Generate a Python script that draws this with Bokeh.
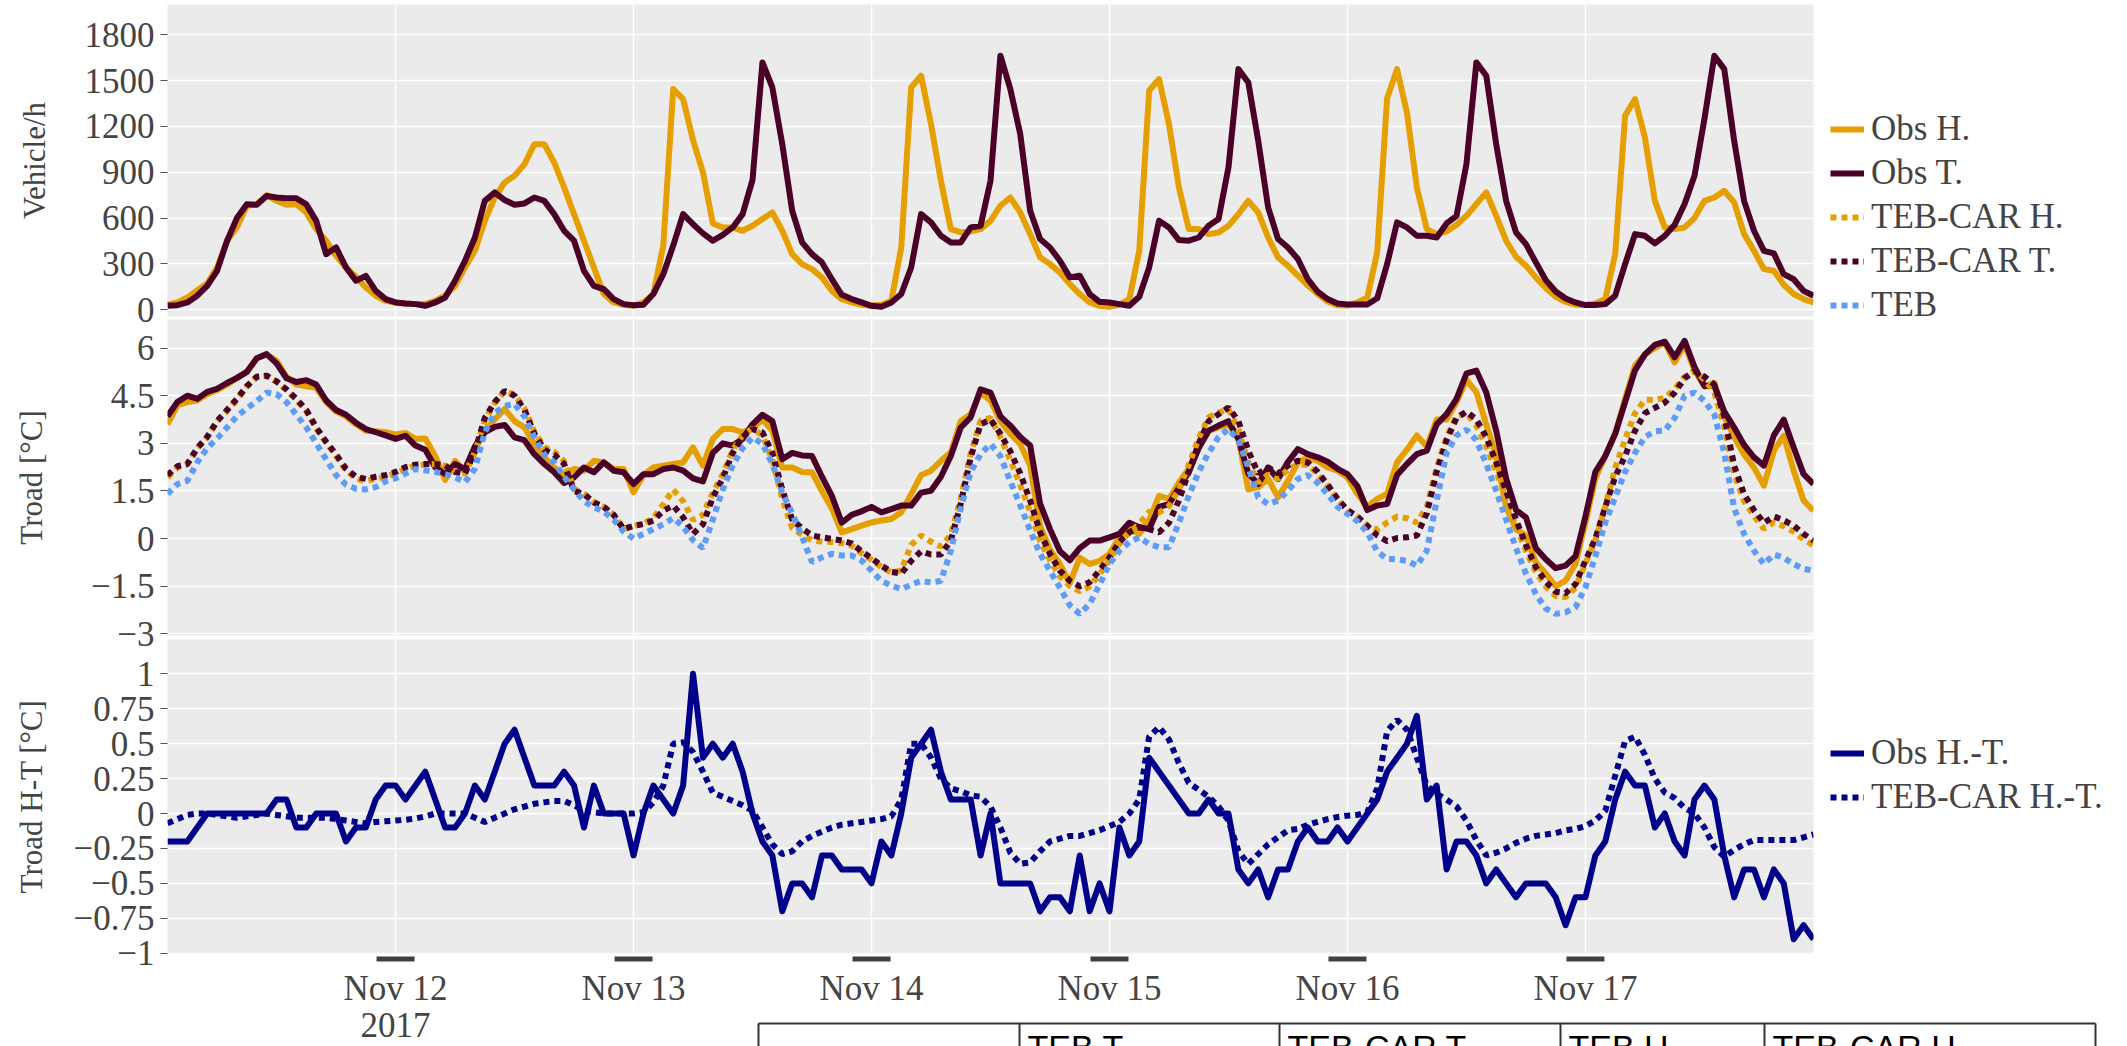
import pandas as pd
from bokeh.plotting import figure
from bokeh.layouts import column
from bokeh.models import Range1d, FixedTicker, Grid, Legend, LegendItem
from bokeh.core.properties import value
from bokeh.embed import file_html
from bokeh.resources import INLINE

# ---------------- data ----------------
START = "2017-11-11 01:00"
N_HOURS = 167
DAY_TICKS = ["2017-11-12", "2017-11-13", "2017-11-14", "2017-11-15", "2017-11-16", "2017-11-17"]
DAY_LABELS = ["Nov 12", "Nov 13", "Nov 14", "Nov 15", "Nov 16", "Nov 17"]
YEAR_LABEL = "2017"

TRAFFIC_TICKS = [0, 300, 600, 900, 1200, 1500, 1800]
TRAFFIC_TICK_LABELS = ["0", "300", "600", "900", "1200", "1500", "1800"]
TROAD_TICKS = [-3, -1.5, 0, 1.5, 3, 4.5, 6]
TROAD_TICK_LABELS = ["\u22123", "\u22121.5", "0", "1.5", "3", "4.5", "6"]
DIFF_TICKS = [-1, -0.75, -0.5, -0.25, 0, 0.25, 0.5, 0.75, 1]
DIFF_TICK_LABELS = ["\u22121", "\u22120.75", "\u22120.5", "\u22120.25", "0", "0.25", "0.5", "0.75", "1"]
TABLE_HEADERS = ["TEB T.", "TEB-CAR T.", "TEB H.", "TEB-CAR H."]

# Vehicle/h
OBS_H_TRAFFIC = [
    33, 48, 80, 128, 172, 277, 450, 540, 680, 690, 750, 713, 687, 690, 637, 528, 452, 353, 277, 216, 146, 92, 59, 48,
    41, 37, 37, 59, 92, 157, 277, 386, 582, 735, 833, 877, 953, 1084, 1084, 964, 801, 626, 452, 277, 103, 48, 33, 26,
    48, 103, 420, 1445, 1379, 1110, 900, 565, 539, 539, 517, 550, 594, 637, 517, 364, 299, 266, 212, 124, 70, 48, 33, 26,
    33, 59, 408, 1455, 1532, 1215, 844, 528, 506, 513, 528, 582, 681, 735, 637, 495, 343, 299, 244, 168, 103, 48, 26, 20,
    33, 70, 386, 1434, 1510, 1215, 801, 528, 528, 495, 506, 550, 626, 713, 637, 473, 343, 288, 223, 160, 103, 55, 30, 28,
    48, 81, 375, 1385, 1575, 1290, 801, 528, 495, 513, 556, 615, 692, 768, 615, 452, 347, 288, 212, 142, 85, 52, 33, 31,
    41, 70, 364, 1270, 1379, 1128, 713, 539, 528, 539, 600, 713, 735, 779, 703, 495, 386, 266, 255, 164, 103, 70, 48]
OBS_T_TRAFFIC = [
    26, 30, 48, 92, 157, 255, 450, 600, 690, 687, 745, 735, 730, 730, 690, 582, 364, 408, 277, 190, 222, 124, 70, 48,
    41, 37, 26, 48, 80, 190, 320, 473, 713, 768, 718, 687, 696, 735, 713, 626, 517, 452, 255, 157, 135, 70, 37, 30,
    33, 103, 233, 420, 626, 560, 500, 452, 490, 539, 626, 850, 1619, 1455, 1084, 648, 441, 364, 310, 200, 98, 70, 48, 26,
    20, 48, 103, 277, 626, 572, 484, 441, 441, 539, 550, 844, 1663, 1444, 1150, 648, 463, 408, 321, 212, 223, 103, 52, 48,
    37, 26, 85, 277, 583, 539, 456, 452, 473, 550, 594, 932, 1575, 1488, 1106, 670, 463, 408, 332, 200, 118, 70, 41, 35,
    35, 35, 75, 299, 572, 539, 484, 484, 473, 565, 615, 954, 1619, 1532, 1084, 713, 506, 430, 310, 194, 120, 74, 48, 31,
    31, 37, 92, 299, 495, 484, 434, 484, 556, 692, 877, 1248, 1663, 1575, 1106, 713, 517, 386, 369, 233, 200, 124, 92]

# Troad [°C]
OBS_H_TROAD = [
    3.6, 4.2, 4.3, 4.35, 4.55, 4.68, 4.85, 5.05, 5.25, 5.68, 5.8, 5.6, 5.1, 4.85, 4.8, 4.75, 4.3, 4.0, 3.85, 3.6, 3.4, 3.38, 3.35, 3.28,
    3.33, 3.14, 3.15, 2.6, 1.85, 2.45, 2.1, 2.8, 3.4, 3.75, 4.08, 3.7, 3.5, 2.98, 2.56, 2.24, 2.0, 2.19, 2.14, 2.45, 2.4, 2.19, 2.19, 1.46,
    2.0, 2.24, 2.3, 2.35, 2.4, 2.87, 2.3, 3.14, 3.45, 3.45, 3.35, 3.48, 3.75, 3.4, 2.24, 2.24, 2.1, 2.09, 1.5, 0.95, 0.2, 0.3, 0.41, 0.51,
    0.57, 0.62, 0.83, 1.4, 2.0, 2.14, 2.45, 2.72, 3.7, 3.92, 4.6, 4.35, 3.7, 3.3, 2.98, 2.3, 0.4, -0.35, -0.8, -1.4, -0.6, -0.8, -0.7, -0.48,
    0.04, 0.3, 0.15, 0.57, 1.35, 1.25, 1.77, 2.2, 2.9, 3.4, 3.5, 3.6, 3.14, 1.55, 1.62, 1.88, 1.3, 1.82, 2.4, 2.56, 2.45, 2.24, 2.14, 1.93,
    1.41, 1.0, 1.25, 1.41, 2.4, 2.8, 3.25, 2.9, 3.75, 3.75, 4.3, 5.0, 4.61, 3.6, 2.6, 1.0, 0.3, 0.1, -0.75, -1.1, -1.5, -1.32, -0.8, 0.5,
    1.9, 2.6, 3.3, 4.4, 5.45, 5.8, 6.0, 6.18, 5.55, 6.12, 5.3, 4.8, 4.9, 3.85, 3.2, 2.65, 2.24, 1.67, 2.77, 3.24, 2.14, 1.2, 0.88]
OBS_T_TROAD = [
    3.85, 4.3, 4.5, 4.4, 4.62, 4.72, 4.9, 5.06, 5.25, 5.68, 5.81, 5.52, 5.05, 4.93, 4.99, 4.85, 4.35, 4.05, 3.9, 3.65, 3.45, 3.35, 3.25, 3.14,
    3.24, 2.93, 2.8, 2.25, 2.03, 2.35, 2.19, 2.9, 3.35, 3.52, 3.58, 3.19, 3.1, 2.66, 2.35, 2.09, 1.75, 1.93, 2.24, 2.09, 2.4, 2.14, 2.09, 1.72,
    2.03, 2.03, 2.19, 2.24, 2.14, 1.9, 1.8, 2.7, 3.0, 2.93, 3.14, 3.6, 3.9, 3.7, 2.5, 2.7, 2.62, 2.6, 1.95, 1.35, 0.5, 0.75, 0.86, 1.0,
    0.83, 0.93, 1.04, 1.04, 1.45, 1.51, 1.95, 2.6, 3.5, 3.82, 4.7, 4.6, 3.85, 3.56, 3.2, 2.93, 1.1, 0.3, -0.4, -0.68, -0.3, -0.06, -0.06, 0.04,
    0.15, 0.5, 0.36, 0.3, 1.0, 1.09, 1.6, 2.1, 2.85, 3.4, 3.56, 3.7, 3.14, 2.05, 1.72, 2.24, 1.88, 2.42, 2.82, 2.66, 2.56, 2.42, 2.2, 2.03,
    1.65, 0.9, 1.04, 1.09, 2.0, 2.35, 2.66, 2.77, 3.6, 3.92, 4.4, 5.2, 5.29, 4.6, 3.4, 1.9, 0.9, 0.67, -0.3, -0.65, -0.93, -0.85, -0.55, 0.7,
    2.1, 2.6, 3.3, 4.3, 5.3, 5.8, 6.1, 6.2, 5.71, 6.23, 5.4, 4.8, 4.82, 4.0, 3.5, 2.95, 2.56, 2.3, 3.25, 3.75, 2.87, 2.03, 1.72]
TEB_CAR_H_TROAD = [
    1.93, 2.24, 2.34, 2.85, 3.2, 3.69, 4.03, 4.37, 4.78, 5.09, 5.13, 4.94, 4.68, 4.37, 4.02, 3.47, 3.02, 2.61, 2.15, 1.89, 1.81, 1.89, 1.95, 2.05,
    2.2, 2.3, 2.33, 2.35, 2.3, 2.1, 2.05, 2.72, 3.74, 4.27, 4.65, 4.53, 4.1, 3.37, 2.88, 2.74, 2.44, 1.56, 1.42, 1.15, 1.0, 0.75, 0.3, 0.4,
    0.47, 0.65, 1.08, 1.54, 1.18, 0.59, 0.75, 1.45, 2.02, 2.79, 3.26, 3.47, 3.25, 2.48, 1.26, 0.33, 0.12, -0.06, -0.09, -0.11, -0.14, -0.22, -0.46, -0.67,
    -0.89, -1.07, -1.0, -0.2, 0.1, -0.1, -0.25, 0.12, 1.26, 2.68, 3.72, 3.8, 3.2, 2.47, 1.69, 0.85, -0.07, -0.68, -1.19, -1.49, -1.66, -1.51, -1.12, -0.69,
    -0.16, 0.2, 0.46, 0.85, 0.82, 1.03, 1.56, 2.32, 3.17, 3.82, 3.97, 4.08, 3.43, 2.41, 1.76, 2.02, 1.88, 2.18, 2.34, 2.32, 2.04, 1.66, 1.23, 0.89,
    0.69, 0.41, 0.28, 0.51, 0.69, 0.64, 0.5, 1.0, 2.24, 3.2, 3.85, 3.95, 3.56, 2.9, 2.12, 1.25, 0.39, -0.38, -1.06, -1.5, -1.81, -1.84, -1.54, -0.78,
    -0.05, 1.02, 2.22, 3.12, 3.95, 4.37, 4.37, 4.43, 4.71, 5.09, 5.28, 5.0, 4.61, 3.54, 2.04, 1.18, 0.71, 0.31, 0.51, 0.39, 0.22, -0.02, -0.21]
TEB_CAR_T_TROAD = [
    2.0, 2.28, 2.35, 2.85, 3.2, 3.7, 4.05, 4.4, 4.8, 5.1, 5.13, 4.95, 4.7, 4.4, 4.05, 3.5, 3.05, 2.65, 2.2, 1.95, 1.88, 1.95, 2.0, 2.1,
    2.25, 2.33, 2.35, 2.35, 2.3, 2.1, 2.05, 2.75, 3.8, 4.3, 4.65, 4.5, 4.05, 3.3, 2.8, 2.65, 2.35, 1.5, 1.4, 1.14, 1.0, 0.75, 0.3, 0.4,
    0.46, 0.57, 0.88, 1.04, 0.67, 0.15, 0.45, 1.3, 1.9, 2.7, 3.2, 3.45, 3.35, 2.7, 1.55, 0.6, 0.32, 0.1, 0.04, -0.01, -0.06, -0.15, -0.4, -0.62,
    -0.85, -1.05, -1.1, -0.7, -0.4, -0.5, -0.5, -0.06, 1.1, 2.55, 3.6, 3.75, 3.3, 2.75, 2.05, 1.2, 0.2, -0.48, -1.01, -1.33, -1.5, -1.37, -1.0, -0.6,
    -0.1, 0.2, 0.36, 0.3, 0.2, 0.5, 1.2, 2.1, 3.0, 3.7, 3.92, 4.13, 3.7, 2.77, 2.05, 2.24, 2.05, 2.3, 2.45, 2.4, 2.1, 1.7, 1.25, 0.9,
    0.7, 0.4, 0.1, -0.08, 0.02, 0.04, 0.1, 0.8, 2.1, 3.1, 3.8, 4.0, 3.75, 3.2, 2.4, 1.5, 0.6, -0.2, -0.9, -1.35, -1.67, -1.72, -1.43, -0.69,
    0.0, 1.0, 1.95, 2.6, 3.4, 3.95, 4.12, 4.28, 4.6, 5.05, 5.28, 5.1, 4.85, 3.85, 2.3, 1.4, 0.9, 0.5, 0.7, 0.58, 0.41, 0.15, -0.06]
TEB_TROAD = [
    1.41, 1.72, 1.82, 2.4, 2.85, 3.15, 3.5, 3.85, 4.1, 4.33, 4.6, 4.55, 4.3, 3.9, 3.5, 3.0, 2.5, 2.0, 1.7, 1.57, 1.55, 1.62, 1.8, 1.9,
    2.05, 2.19, 2.15, 2.1, 2.03, 1.93, 1.78, 2.2, 3.35, 3.95, 4.18, 4.24, 3.85, 3.2, 2.65, 2.4, 1.95, 1.55, 1.18, 0.99, 0.85, 0.6, 0.22, 0.0,
    0.15, 0.3, 0.45, 0.65, 0.38, -0.05, -0.3, 0.6, 1.55, 2.3, 2.85, 3.19, 2.98, 2.35, 1.45, 0.8, 0.05, -0.74, -0.59, -0.48, -0.53, -0.53, -0.69, -1.01,
    -1.33, -1.48, -1.59, -1.45, -1.33, -1.38, -1.33, -0.38, 0.95, 2.1, 2.66, 2.98, 2.6, 1.8, 1.05, 0.25, -0.48, -1.01, -1.55, -2.1, -2.37, -2.06, -1.45, -0.8,
    -0.38, -0.11, 0.04, -0.17, -0.27, -0.27, 0.5, 1.35, 2.1, 2.7, 3.2, 3.45, 3.1, 2.24, 1.3, 1.09, 1.2, 1.51, 1.88, 2.0, 1.75, 1.4, 1.0, 0.78,
    0.55, 0.2, -0.4, -0.64, -0.65, -0.7, -0.85, -0.38, 1.2, 2.7, 3.25, 3.43, 3.1, 2.35, 1.5, 0.6, -0.3, -1.1, -1.75, -2.2, -2.37, -2.32, -2.16, -1.53,
    -0.55, 0.5, 1.3, 2.1, 2.7, 3.2, 3.38, 3.4, 3.8, 4.5, 4.6, 4.34, 3.9, 2.7, 0.95, 0.15, -0.38, -0.8, -0.5, -0.6, -0.8, -0.95, -1.01]

# Troad H-T [°C]
OBS_HT = [
    -0.2, -0.2, -0.2, -0.1, 0.0, 0.0, 0.0, 0.0, 0.0, 0.0, 0.0, 0.1, 0.1, -0.1, -0.1, 0.0, 0.0, 0.0, -0.2, -0.1, -0.1, 0.1, 0.2, 0.2,
    0.1, 0.2, 0.3, 0.1, -0.1, -0.1, 0.0, 0.2, 0.1, 0.3, 0.5, 0.6, 0.4, 0.2, 0.2, 0.2, 0.3, 0.2, -0.1, 0.2, 0.0, 0.0, 0.0, -0.3,
    0.0, 0.2, 0.1, 0.0, 0.2, 1.0, 0.4, 0.5, 0.4, 0.5, 0.3, 0.0, -0.2, -0.3, -0.7, -0.5, -0.5, -0.6, -0.3, -0.3, -0.4, -0.4, -0.4, -0.5,
    -0.2, -0.3, 0.0, 0.4, 0.5, 0.6, 0.3, 0.1, 0.1, 0.1, -0.3, 0.0, -0.5, -0.5, -0.5, -0.5, -0.7, -0.6, -0.6, -0.7, -0.3, -0.7, -0.5, -0.7,
    -0.1, -0.3, -0.2, 0.4, 0.3, 0.2, 0.1, 0.0, 0.0, 0.1, 0.0, 0.0, -0.4, -0.5, -0.4, -0.6, -0.4, -0.4, -0.2, -0.1, -0.2, -0.2, -0.1, -0.2,
    -0.1, 0.0, 0.1, 0.3, 0.4, 0.5, 0.7, 0.1, 0.2, -0.4, -0.2, -0.2, -0.3, -0.5, -0.4, -0.5, -0.6, -0.5, -0.5, -0.5, -0.6, -0.8, -0.6, -0.6,
    -0.3, -0.2, 0.1, 0.3, 0.2, 0.2, -0.1, 0.0, -0.2, -0.3, 0.1, 0.2, 0.1, -0.3, -0.6, -0.4, -0.4, -0.6, -0.4, -0.5, -0.9, -0.8, -0.9]
TEB_CAR_HT = [
    -0.07, -0.04, -0.01, 0.0, 0.0, -0.01, -0.02, -0.03, -0.02, -0.01, 0.0, -0.01, -0.02, -0.03, -0.03, -0.03, -0.03, -0.04, -0.05, -0.06, -0.07, -0.06, -0.055, -0.05,
    -0.045, -0.035, -0.02, 0.0, 0.0, 0.0, 0.0, -0.03, -0.06, -0.03, 0.0, 0.03, 0.05, 0.07, 0.08, 0.09, 0.09, 0.06, 0.02, 0.01, 0.0, 0.0, 0.0, 0.0,
    0.01, 0.08, 0.2, 0.5, 0.51, 0.44, 0.3, 0.15, 0.12, 0.09, 0.06, 0.02, -0.1, -0.22, -0.29, -0.27, -0.2, -0.16, -0.13, -0.1, -0.08, -0.07, -0.06, -0.05,
    -0.04, -0.02, 0.1, 0.5, 0.5, 0.4, 0.25, 0.18, 0.16, 0.13, 0.12, 0.05, -0.1, -0.28, -0.36, -0.35, -0.27, -0.2, -0.18, -0.16, -0.16, -0.14, -0.12, -0.09,
    -0.06, 0.0, 0.1, 0.55, 0.62, 0.53, 0.36, 0.22, 0.17, 0.12, 0.05, -0.05, -0.27, -0.36, -0.29, -0.22, -0.17, -0.12, -0.11, -0.08, -0.06, -0.04, -0.025, -0.015,
    -0.01, 0.01, 0.18, 0.59, 0.67, 0.6, 0.4, 0.2, 0.14, 0.1, 0.05, -0.05, -0.19, -0.3, -0.28, -0.25, -0.21, -0.18, -0.16, -0.15, -0.14, -0.12, -0.11, -0.09,
    -0.05, 0.02, 0.27, 0.52, 0.55, 0.42, 0.25, 0.15, 0.11, 0.04, 0.0, -0.1, -0.24, -0.31, -0.26, -0.22, -0.19, -0.19, -0.19, -0.19, -0.19, -0.17, -0.15]

for arr in (OBS_H_TRAFFIC, OBS_T_TRAFFIC, OBS_H_TROAD, OBS_T_TROAD, TEB_CAR_H_TROAD,
            TEB_CAR_T_TROAD, TEB_TROAD, OBS_HT, TEB_CAR_HT):
    assert len(arr) == N_HOURS, len(arr)

# ---------------- style ----------------
ORANGE = "#E69F00"
MAROON = "#4A0027"
LIGHTBLUE = "#5E9CF5"
NAVY = "#00008B"
PANEL_BG = "#EBEBEB"
TEXT = "#444444"
FONT = "Liberation Serif"
DOT = "6 5"
LW = 6
TICK_FS = "35px"
OVERHANG = 20                       # room under each panel for its lowest tick label

PAGE_W = 2127
FRAME_L, FRAME_R = 167, 1813        # page pixels of the plotting area
FRAME_W = FRAME_R - FRAME_L

times = pd.date_range(START, periods=N_HOURS, freq="h")
t_ms = [ts.timestamp() * 1000.0 for ts in times]
day_ms = [pd.Timestamp(d).timestamp() * 1000.0 for d in DAY_TICKS]
px_per_ms = FRAME_W / (t_ms[-1] - t_ms[0])


def page_x_to_t(px):
    return t_ms[0] + (px - FRAME_L) / px_per_ms


def no_align(p):
    try:
        p.frame_align = False
    except Exception:
        pass


xr = Range1d(t_ms[0], t_ms[-1])


def make_panel(top, frame_h, gap, y_lo, y_hi, ticks, labels, title, title_standoff, overlap):
    p = figure(frame_width=FRAME_W, frame_height=frame_h, x_range=xr, y_range=Range1d(y_lo, y_hi),
               x_axis_type=None, title=None, output_backend="svg", toolbar_location=None,
               min_border_left=FRAME_L, min_border_right=PAGE_W - FRAME_R,
               min_border_top=top, min_border_bottom=gap + OVERHANG,
               margin=(-overlap, 0, 0, 0))
    no_align(p)
    p.background_fill_color = PANEL_BG
    p.border_fill_alpha = 0
    p.outline_line_color = None
    ax = p.yaxis[0]
    ax.ticker = FixedTicker(ticks=ticks)
    ax.major_label_overrides = {float(t): l for t, l in zip(ticks, labels)}
    ax.axis_line_color = None
    ax.major_tick_line_color = "#555555"
    ax.major_tick_out = 7
    ax.major_tick_in = 0
    ax.minor_tick_line_color = None
    ax.major_label_standoff = 6
    ax.major_label_text_font = FONT
    ax.major_label_text_font_size = TICK_FS
    ax.major_label_text_color = TEXT
    ax.axis_label = title
    ax.axis_label_text_font = FONT
    ax.axis_label_text_font_size = "31px"
    ax.axis_label_text_font_style = "normal"
    ax.axis_label_text_color = TEXT
    ax.axis_label_standoff = title_standoff
    p.ygrid.grid_line_color = "white"
    p.ygrid.grid_line_width = 1.5
    p.add_layout(Grid(dimension=0, ticker=FixedTicker(ticks=day_ms),
                      grid_line_color="white", grid_line_width=1.5))
    return p


def style_legend(lg):
    lg.label_text_font = FONT
    lg.label_text_font_size = TICK_FS
    lg.label_text_color = TEXT
    lg.glyph_width = 34
    lg.glyph_height = 38
    lg.label_height = 38
    lg.label_standoff = 7
    lg.spacing = 4
    lg.padding = 0
    lg.margin = 0
    lg.background_fill_alpha = 0
    lg.border_line_alpha = 0


# ---- panel 1: traffic ----
p1 = make_panel(4, 312, 3, -44, 1998, TRAFFIC_TICKS, TRAFFIC_TICK_LABELS, "Vehicle/h", 30, 0)
r_oh = p1.line(t_ms, OBS_H_TRAFFIC, line_color=ORANGE, line_width=LW, line_join="round")
r_ot = p1.line(t_ms, OBS_T_TRAFFIC, line_color=MAROON, line_width=LW, line_join="round")
# legend keys for the dotted model series drawn in the panel below (no visible points here)
NO_POINT = [float("nan")]
k_ch = p1.line(t_ms[:1], NO_POINT, line_color=ORANGE, line_width=LW, line_dash=DOT)
k_ct = p1.line(t_ms[:1], NO_POINT, line_color=MAROON, line_width=LW, line_dash=DOT)
k_teb = p1.line(t_ms[:1], NO_POINT, line_color=LIGHTBLUE, line_width=LW, line_dash=DOT)
lg1 = Legend(items=[LegendItem(label="Obs H.", renderers=[r_oh]),
                    LegendItem(label="Obs T.", renderers=[r_ot]),
                    LegendItem(label="TEB-CAR H.", renderers=[k_ch]),
                    LegendItem(label="TEB-CAR T.", renderers=[k_ct]),
                    LegendItem(label="TEB", renderers=[k_teb])],
             location=(17, -9))
style_legend(lg1)
p1.add_layout(lg1, "right")

# ---- panel 2: road temperature ----
p2 = make_panel(0, 316, 4, -3.05, 6.9, TROAD_TICKS, TROAD_TICK_LABELS, "Troad [\u00b0C]", 39, OVERHANG)
p2.line(t_ms, OBS_H_TROAD, line_color=ORANGE, line_width=LW, line_join="round")
p2.line(t_ms, OBS_T_TROAD, line_color=MAROON, line_width=LW, line_join="round")
p2.line(t_ms, TEB_CAR_H_TROAD, line_color=ORANGE, line_width=LW, line_dash=DOT)
p2.line(t_ms, TEB_CAR_T_TROAD, line_color=MAROON, line_width=LW, line_dash=DOT)
p2.line(t_ms, TEB_TROAD, line_color=LIGHTBLUE, line_width=LW, line_dash=DOT)

# ---- panel 3: H - T difference ----
p3 = make_panel(0, 314, 0, -1.002, 1.246, DIFF_TICKS, DIFF_TICK_LABELS, "Troad H-T [\u00b0C]", 22, OVERHANG)
r_ht = p3.line(t_ms, OBS_HT, line_color=NAVY, line_width=LW, line_join="round")
r_cht = p3.line(t_ms, TEB_CAR_HT, line_color=NAVY, line_width=LW, line_dash=DOT)
lg3 = Legend(items=[LegendItem(label="Obs H.-T.", renderers=[r_ht]),
                    LegendItem(label="TEB-CAR H.-T.", renderers=[r_cht])],
             location=(17, 136))
style_legend(lg3)
p3.add_layout(lg3, "right")

# ---- bottom strip: date labels, day marks and table header ----
H4 = 112
p4 = figure(frame_width=PAGE_W, frame_height=H4, x_range=Range1d(0, PAGE_W), y_range=Range1d(H4, 0),
            x_axis_type=None, y_axis_type=None, title=None, output_backend="svg",
            toolbar_location=None, min_border=0, margin=(-OVERHANG, 0, 0, 0))
no_align(p4)
p4.outline_line_color = None
p4.background_fill_alpha = 0
p4.border_fill_alpha = 0
p4.extra_x_ranges = {"time": Range1d(page_x_to_t(0), page_x_to_t(PAGE_W))}

p4.rect(x=day_ms, y=5.5, width=38, height=5, width_units="screen", height_units="screen",
        fill_color="#404040", line_color=None, x_range_name="time")
p4.text(x=day_ms, y=[35] * len(day_ms), text=DAY_LABELS, x_range_name="time",
        text_align="center", text_baseline="alphabetic", text_font=value(FONT),
        text_font_size=TICK_FS, text_color=TEXT)
p4.text(x=[day_ms[0]], y=[71], text=[YEAR_LABEL], x_range_name="time",
        text_align="center", text_baseline="alphabetic", text_font=value(FONT),
        text_font_size=TICK_FS, text_color=TEXT)

# table header (positions in page pixels)
COL_EDGES = [758, 1019, 1279, 1560, 1764, 2095]
TABLE_TOP = 1023 - 953
p4.segment(x0=[COL_EDGES[0]], y0=[TABLE_TOP], x1=[COL_EDGES[-1]], y1=[TABLE_TOP],
           line_color="#333333", line_width=2)
p4.segment(x0=COL_EDGES, y0=[TABLE_TOP] * len(COL_EDGES), x1=COL_EDGES, y1=[H4 + 10] * len(COL_EDGES),
           line_color="#333333", line_width=2)
p4.text(x=[e + 8 for e in COL_EDGES[1:5]], y=[93] * 4, text=TABLE_HEADERS,
        text_align="left", text_baseline="alphabetic", text_font=value("Liberation Sans"),
        text_font_size="34px", text_color="black")

layout = column(p1, p2, p3, p4, spacing=0)

open("out.html", "w").write(file_html(layout, INLINE))
